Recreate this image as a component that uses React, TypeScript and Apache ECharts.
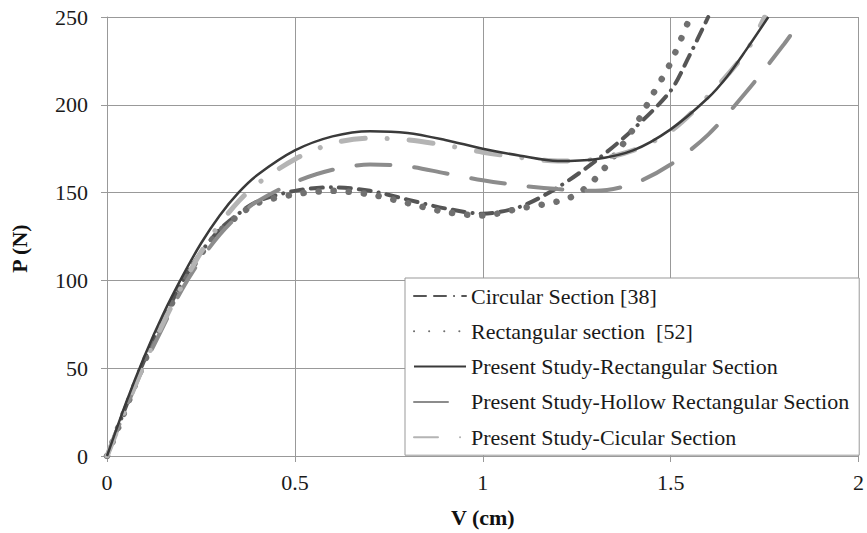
import React, { useEffect, useRef } from "react";
import * as echarts from "echarts";

const circV = [0, 0.05, 0.1, 0.15, 0.2, 0.25, 0.3, 0.35, 0.4, 0.5, 0.6, 0.7, 0.8, 0.9, 1.0, 1.1, 1.2, 1.3, 1.4, 1.5, 1.55, 1.6];
const circP = [0, 28, 55, 78, 99, 116, 129, 138, 145, 151, 153, 151, 146, 141, 138, 142, 153, 168, 186, 208, 228, 250];

const rectV = [0, 0.05, 0.1, 0.15, 0.2, 0.25, 0.3, 0.35, 0.4, 0.5, 0.6, 0.7, 0.8, 0.9, 1.0, 1.1, 1.2, 1.25, 1.3, 1.35, 1.4, 1.45, 1.5, 1.55];
const rectP = [0, 27, 54, 77, 98, 115, 128, 137, 144, 149, 151, 149, 144, 139, 137, 141, 145, 149, 158, 171, 186, 205, 224, 249];

const solidV = [0, 0.05, 0.1, 0.15, 0.2, 0.25, 0.3, 0.35, 0.4, 0.5, 0.6, 0.7, 0.8, 0.9, 1.0, 1.1, 1.2, 1.3, 1.4, 1.5, 1.6, 1.65, 1.7, 1.76];
const solidP = [0, 30, 57, 81, 102, 121, 137, 150, 160, 174, 182, 185, 184, 180, 175, 171, 168, 169, 174, 186, 204, 216, 231, 250];

const hollowV = [0, 0.05, 0.1, 0.15, 0.2, 0.25, 0.3, 0.35, 0.4, 0.5, 0.6, 0.7, 0.8, 0.9, 1.0, 1.1, 1.2, 1.3, 1.4, 1.5, 1.6, 1.7, 1.8, 1.84];
const hollowP = [0, 27, 52, 74, 95, 112, 126, 137, 145, 156, 163, 166, 165, 161, 157, 154, 152, 151, 155, 166, 183, 207, 234, 246];

const lightV = [0, 0.05, 0.1, 0.15, 0.2, 0.25, 0.3, 0.35, 0.4, 0.5, 0.6, 0.7, 0.8, 0.9, 1.0, 1.1, 1.2, 1.3, 1.4, 1.5, 1.6, 1.7, 1.75];
const lightP = [0, 27, 53, 76, 97, 116, 132, 145, 155, 169, 178, 181, 180, 177, 173, 170, 168, 169, 174, 185, 205, 230, 250];

const seriesNames = [
  "Circular Section [38]",
  "Rectangular section  [52]",
  "Present Study-Rectangular Section",
  "Present Study-Hollow Rectangular Section",
  "Present Study-Cicular Section",
];

const xTicks = [0, 0.5, 1, 1.5, 2];

const zip = (v: number[], p: number[]) => v.map((x, i) => [x, p[i]]);

const FONT = "Liberation Serif";

export default function App() {
  const ref = useRef<HTMLDivElement>(null);
  useEffect(() => {
    if (!ref.current) return;
    const chart = echarts.init(ref.current, null, { renderer: "svg" });
    chart.setOption({
      animation: false,
      backgroundColor: "#fff",
      grid: { left: 104, right: 5, top: 17, bottom: 77 },
      xAxis: {
        type: "value",
        min: 0,
        max: 2,
        interval: 0.5,
        name: "V (cm)",
        nameLocation: "middle",
        nameGap: 50,
        nameTextStyle: { fontFamily: FONT, fontSize: 22, fontWeight: "bold", color: "#111" },
        axisLine: { show: true, lineStyle: { color: "#999", width: 1 } },
        axisTick: { show: true, length: 6, lineStyle: { color: "#999" } },
        splitLine: { show: true, lineStyle: { color: "#999", width: 1 } },
        axisLabel: {
          margin: 15,
          fontFamily: FONT,
          fontSize: 22,
          color: "#1a1a1a",
          formatter: (v: number) => (xTicks.includes(v) ? String(v) : ""),
        },
      },
      yAxis: {
        type: "value",
        min: 0,
        max: 250,
        interval: 50,
        name: "P (N)",
        nameLocation: "middle",
        nameGap: 77,
        nameTextStyle: { fontFamily: FONT, fontSize: 22, fontWeight: "bold", color: "#111", padding: [0, 24, 0, 0] },
        axisLine: { show: true, lineStyle: { color: "#999", width: 1 } },
        axisTick: { show: true, length: 6, lineStyle: { color: "#999" } },
        splitLine: { show: true, lineStyle: { color: "#999", width: 1 } },
        axisLabel: { margin: 19, fontFamily: FONT, fontSize: 22, color: "#1a1a1a" },
      },
      legend: {
        orient: "vertical",
        left: 405,
        top: 278,
        padding: [6, 10, 6, 8],
        itemGap: 11.3,
        itemWidth: 52,
        itemHeight: 14,
        backgroundColor: "#fff",
        borderColor: "#999",
        borderWidth: 1,
        borderRadius: 0,
        itemStyle: { opacity: 0 },
        textStyle: { fontFamily: FONT, fontSize: 22, lineHeight: 24, color: "#1a1a1a" },
        data: seriesNames,
      },
      series: [
        {
          name: seriesNames[0],
          type: "line",
          smooth: 0.3,
          symbol: "none",
          data: zip(circV, circP),
          z: 3,
          lineStyle: { color: "#555", width: 4, type: [12, 8, 12, 8, 0.1, 8], cap: "round" },
          itemStyle: { color: "#555" },
        },
        {
          name: seriesNames[1],
          type: "line",
          smooth: 0.3,
          symbol: "none",
          data: zip(rectV, rectP),
          z: 3,
          lineStyle: { color: "#707070", width: 6.5, type: [0.1, 15], cap: "round" },
          itemStyle: { color: "#707070" },
        },
        {
          name: seriesNames[2],
          type: "line",
          smooth: 0.3,
          symbol: "none",
          data: zip(solidV, solidP),
          z: 4,
          lineStyle: { color: "#3a3a3a", width: 2.5, type: "solid" },
          itemStyle: { color: "#3a3a3a" },
        },
        {
          name: seriesNames[3],
          type: "line",
          smooth: 0.3,
          symbol: "none",
          data: zip(hollowV, hollowP),
          z: 3,
          lineStyle: { color: "#8c8c8c", width: 4, type: [34, 24], cap: "round" },
          itemStyle: { color: "#8c8c8c" },
        },
        {
          name: seriesNames[4],
          type: "line",
          smooth: 0.3,
          symbol: "none",
          data: zip(lightV, lightP),
          z: 3,
          lineStyle: { color: "#b4b4b4", width: 5, type: [24, 22, 0.1, 22], cap: "round" },
          itemStyle: { color: "#b4b4b4" },
        },
      ],
    });
    return () => chart.dispose();
  }, []);
  return <div ref={ref} style={{ width: 867, height: 533, position: "fixed", left: 0, top: 0 }} />;
}
